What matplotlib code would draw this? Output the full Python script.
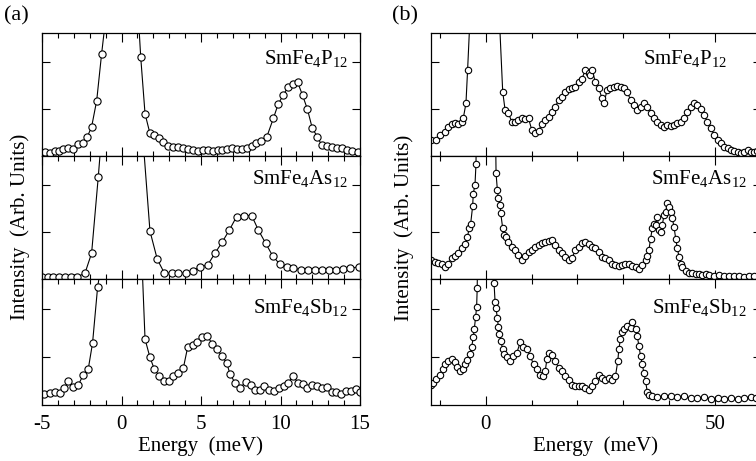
import matplotlib
matplotlib.use("Agg")
import matplotlib.pyplot as plt
from matplotlib.ticker import MultipleLocator, FixedLocator

plt.rcParams['font.family'] = ['Liberation Serif', 'DejaVu Serif']
plt.rcParams['mathtext.fontset'] = 'custom'
plt.rcParams['mathtext.rm'] = 'Liberation Serif'
plt.rcParams['mathtext.it'] = 'Liberation Serif:italic'
plt.rcParams['axes.unicode_minus'] = False

# ---------------- data: panel (a) ----------------
xa_P = [-4.81,-4.50,-4.18,-3.91,-3.66,-3.34,-3.07,-2.71,-2.40,-2.15,
        -1.88,-1.56,-1.25,-0.94,-0.63,-0.31,0.0,0.31,0.63,0.94,
        1.21,1.48,1.79,2.04,2.38,2.63,2.95,3.26,3.57,3.89,
        4.20,4.52,4.83,5.15,5.46,5.78,6.09,6.30,6.61,6.93,
        7.24,7.56,7.87,8.19,8.46,8.75,9.13,9.55,9.86,10.18,
        10.49,10.77,11.08,11.39,11.69,12.0,12.32,12.59,12.90,13.22,
        13.53,13.85,14.16,14.48,14.90]
ya_P = [0.08,0.06,0.11,0.11,0.15,0.18,0.15,0.26,0.28,0.41,
        0.62,1.18,2.18,3.09,8,20,30,20,8,3.66,
        2.10,0.90,0.48,0.45,0.38,0.30,0.22,0.20,0.20,0.16,
        0.15,0.13,0.11,0.13,0.13,0.11,0.13,0.13,0.15,0.16,
        0.15,0.14,0.16,0.22,0.27,0.33,0.40,0.80,1.11,1.30,
        1.48,1.53,1.57,1.29,1.00,0.59,0.41,0.23,0.22,0.20,
        0.18,0.16,0.13,0.11,0.09]

xa_As = [-4.98,-4.64,-4.29,-3.91,-3.55,-3.18,-2.78,-2.30,-1.88,-1.46,
         -1.06,-0.66,-0.26,0.14,0.54,0.96,1.37,
         1.79,2.25,2.69,3.16,3.58,4.06,4.52,4.94,5.42,5.88,
         6.34,6.78,7.24,7.71,8.19,8.61,9.07,9.51,9.97,10.39,
         10.81,11.29,11.75,12.17,12.59,13.05,13.49,13.91,14.37,14.96]
ya_As = [0.05,0.035,0.035,0.035,0.05,0.05,0.05,0.12,0.55,2.18,
         3.86,10,25,30,20,8,2.9,
         1.02,0.42,0.13,0.12,0.12,0.13,0.18,0.26,0.30,0.55,
         0.79,1.04,1.33,1.35,1.35,1.04,0.76,0.49,0.31,0.26,
         0.23,0.20,0.19,0.19,0.19,0.20,0.20,0.21,0.23,0.26]

xa_Sb = [-4.85,-4.50,-4.18,-3.87,-3.60,-3.34,-3.03,-2.71,-2.40,-2.09,-1.82,-1.50,
         -1.19,-0.85,-0.5,-0.15,0.2,0.55,0.86,1.17,
         1.48,1.79,2.06,2.38,2.69,3.01,3.26,3.57,3.89,4.16,
         4.48,4.73,5.04,5.40,5.71,6.03,6.30,6.61,6.82,7.14,
         7.45,7.81,8.13,8.40,8.71,8.98,9.30,9.59,9.93,10.22,
         10.49,10.81,11.08,11.39,11.69,12.0,12.32,12.59,12.90,13.22,
         13.49,13.78,14.10,14.41,14.73,14.98]
ya_Sb = [0.23,0.25,0.26,0.25,0.35,0.49,0.37,0.42,0.63,0.75,1.29,2.46,
         3.08,8,20,30,25,10,6,3.95,
         1.37,0.99,0.75,0.60,0.49,0.49,0.61,0.67,0.77,1.20,
         1.25,1.30,1.41,1.43,1.27,1.16,1.02,0.88,0.65,0.46,
         0.35,0.48,0.42,0.32,0.32,0.40,0.32,0.30,0.35,0.39,
         0.46,0.61,0.46,0.44,0.35,0.42,0.39,0.35,0.37,0.27,
         0.27,0.23,0.30,0.30,0.33,0.27]

# ---------------- data: panel (b) ----------------
xb_P = [-11.83,-10.74,-10.01,-8.91,-8.18,-7.45,-6.72,-5.99,-5.26,-4.90,-4.31,-3.95,
        -3.2,-2.0,0.0,2.0,3.0,
        3.71,4.23,4.96,5.69,6.42,7.15,7.88,8.61,9.34,10.07,
        10.80,11.53,12.26,12.99,13.72,14.45,15.18,15.91,16.64,17.37,
        18.10,18.82,19.55,20.28,21.01,21.74,22.47,22.84,23.20,23.93,
        24.66,25.39,25.76,26.49,27.22,27.95,28.68,29.42,30.15,30.88,
        31.61,32.34,33.07,33.80,34.53,35.26,35.99,36.72,37.45,38.18,
        38.91,39.64,40.37,41.09,41.82,42.55,43.28,44.01,44.74,45.47,
        46.20,46.93,47.66,48.39,49.12,49.85,50.58,51.31,52.04,52.77,
        53.50,54.23,54.96,55.69,56.42,57.15,57.88,58.61,59.2]
yb_P = [0.35,0.35,0.45,0.52,0.62,0.68,0.71,0.68,0.73,0.80,1.12,1.83,
        3.43,10,30,10,2.9,
        1.37,0.98,0.91,0.73,0.73,0.77,0.80,0.78,0.80,0.55,
        0.50,0.53,0.69,0.77,0.84,0.94,1.05,1.19,1.26,1.37,
        1.42,1.44,1.48,1.58,1.65,1.83,1.77,1.72,1.83,1.58,
        1.44,1.23,1.12,1.40,1.44,1.47,1.49,1.47,1.44,1.37,
        1.19,1.08,0.98,1.05,1.12,1.05,0.91,0.80,0.73,0.66,
        0.62,0.66,0.64,0.66,0.70,0.73,0.80,0.94,1.05,1.13,
        1.08,1.01,0.87,0.73,0.59,0.45,0.34,0.27,0.20,0.16,
        0.13,0.11,0.09,0.07,0.09,0.13,0.09,0.09,0.11]

xb_As = [-11.83,-11.1,-10.37,-9.64,-8.91,-8.18,-7.45,-6.72,-5.99,-5.26,
         -4.53,-4.02,-3.58,-3.29,-2.85,-2.71,-2.34,-2.12,
         0.0,
         2.26,2.55,2.77,3.13,3.28,3.71,4.0,4.44,4.96,5.69,
         6.42,7.15,7.88,8.61,9.34,10.07,10.80,11.53,12.26,12.99,
         13.72,14.45,15.18,15.91,16.64,17.37,18.10,18.82,19.55,20.28,
         21.01,21.74,22.47,23.20,23.93,24.66,25.39,26.12,26.85,27.58,
         28.31,29.04,29.77,30.50,31.23,31.96,32.69,33.42,34.15,34.88,
         35.25,35.61,35.98,36.34,36.71,37.07,37.44,37.80,38.17,38.53,
         38.90,39.26,39.63,39.99,40.36,40.72,41.09,41.45,41.82,42.18,
         42.55,42.91,43.64,44.37,45.10,45.83,46.56,47.29,48.02,48.75,
         49.85,50.95,52.04,53.13,54.23,55.32,56.42,57.52,58.61]
yb_As = [0.40,0.37,0.35,0.33,0.26,0.33,0.44,0.49,0.55,0.65,
         0.74,0.89,1.08,1.17,1.55,1.82,2.00,2.45,
         20,
         2.25,1.89,1.72,1.57,1.40,1.08,0.94,0.89,0.79,0.69,
         0.62,0.51,0.40,0.49,0.58,0.62,0.69,0.72,0.77,0.79,
         0.82,0.83,0.72,0.62,0.55,0.46,0.40,0.44,0.62,0.69,
         0.76,0.79,0.74,0.69,0.65,0.58,0.47,0.44,0.40,0.33,
         0.30,0.28,0.30,0.33,0.32,0.28,0.25,0.21,0.30,0.40,
         0.49,0.62,0.86,1.08,1.18,1.15,1.33,1.04,1.01,1.15,
         1.36,1.43,1.61,1.54,1.43,1.29,1.11,0.86,0.65,0.47,
         0.33,0.26,0.18,0.13,0.12,0.11,0.10,0.09,0.10,0.09,
         0.07,0.09,0.07,0.06,0.06,0.06,0.05,0.06,0.06]

xb_Sb = [-11.9,-11.46,-10.74,-10.01,-9.42,-8.91,-8.18,-7.45,-6.72,-6.21,
         -5.63,-5.04,-4.53,-4.02,-3.44,-3.07,-2.71,-2.49,-2.20,-1.98,-1.85,
         0.0,
         1.82,2.04,2.26,2.55,2.77,2.99,3.28,3.71,4.0,4.59,
         5.32,6.05,6.78,7.51,8.24,8.97,9.70,10.43,11.16,11.89,
         12.47,12.98,13.35,13.71,14.44,15.17,15.90,16.63,17.36,18.09,
         18.82,19.55,20.28,21.01,21.74,22.47,23.20,23.93,24.66,25.39,
         26.12,26.85,27.58,28.31,28.83,29.04,29.41,29.77,30.14,30.87,
         31.60,31.96,32.69,33.06,33.42,33.79,34.15,34.52,34.88,35.25,
         35.61,36.34,37.44,38.90,40.36,41.82,43.28,44.74,46.20,47.66,
         49.12,50.58,52.04,53.50,54.96,56.42,57.88,58.97]
yb_Sb = [0.42,0.46,0.54,0.63,0.74,0.85,0.92,0.95,0.89,0.80,
         0.70,0.74,0.85,0.94,1.06,1.20,1.41,1.58,1.83,2.04,2.44,
         20,
         2.54,2.15,2.01,1.80,1.62,1.48,1.34,1.16,1.06,0.99,
         0.92,1.02,1.08,1.30,1.20,1.16,1.02,0.85,0.74,0.63,
         0.60,0.70,0.95,1.09,1.04,0.92,0.77,0.70,0.60,0.53,
         0.42,0.39,0.40,0.39,0.35,0.32,0.39,0.49,0.63,0.56,
         0.53,0.56,0.53,0.60,0.92,1.16,1.37,1.51,1.58,1.65,
         1.60,1.73,1.58,1.44,1.23,1.02,0.85,0.67,0.49,0.28,
         0.21,0.18,0.16,0.18,0.19,0.16,0.18,0.14,0.14,0.16,
         0.13,0.14,0.12,0.14,0.12,0.14,0.16,0.14]

labels = [r'SmFe$_{4}$P$_{12}$', r'SmFe$_{4}$As$_{12}$', r'SmFe$_{4}$Sb$_{12}$']
a_ticks = [-5, 0, 5, 10, 15]
a_ticklabels = ['-5', '0', '5', '10', '15']
b_ticks = [0, 50]
b_ticklabels = ['0', '50']

W, H = 756, 461
fig = plt.figure(figsize=(W / 100, H / 100), dpi=100)

rows_px = [(33, 156), (156, 279), (279, 405)]
col_px = [(42, 360), (430.7, 760.7)]

FS = 15
data_a = [(xa_P, ya_P), (xa_As, ya_As), (xa_Sb, ya_Sb)]
data_b = [(xb_P, yb_P), (xb_As, yb_As), (xb_Sb, yb_Sb)]
lab_pos_a = [(0.962, 0.745), (0.962, 0.77), (0.962, 0.73)]
lab_pos_b = [(0.898, 0.745), (0.958, 0.77), (0.958, 0.73)]

for ci, (x0, x1) in enumerate(col_px):
    for ri, (t, b) in enumerate(rows_px):
        ax = fig.add_axes([x0 / W, 1 - b / H, (x1 - x0) / W, (b - t) / H])
        if ci == 0:
            xs, ys = data_a[ri]
            ax.set_xlim(-5, 15)
            ax.xaxis.set_major_locator(FixedLocator(a_ticks))
            ax.xaxis.set_minor_locator(MultipleLocator(1))
            ms = 5.2
            lx, ly = lab_pos_a[ri]
        else:
            xs, ys = data_b[ri]
            ax.set_xlim(-12, 60)
            ax.xaxis.set_major_locator(FixedLocator(b_ticks))
            ax.xaxis.set_minor_locator(MultipleLocator(10))
            ms = 4.6
            lx, ly = lab_pos_b[ri]
        ax.plot(xs, ys, '-', color='black', lw=0.8, marker='o', ms=ms,
                mfc='white', mec='black', mew=0.8)
        ax.set_ylim(0, 2.62)
        ax.yaxis.set_major_locator(FixedLocator([1, 2]))
        ax.tick_params(axis='both', which='major', direction='in', top=True, right=True,
                       length=6.5, width=0.8, labelsize=FS, pad=7)
        ax.tick_params(axis='both', which='minor', direction='in', top=True, right=True,
                       length=3.5, width=0.8)
        ax.tick_params(axis='y', which='major', length=6)
        ax.set_yticklabels([])
        for s in ax.spines.values():
            s.set_linewidth(0.9)
        if ri < 2:
            ax.set_xticklabels([])
        else:
            ax.set_xticklabels(a_ticklabels if ci == 0 else b_ticklabels)
            ax.set_xlabel('Energy  (meV)', fontsize=FS, labelpad=2)
        ax.text(lx, ly, labels[ri], transform=ax.transAxes, ha='right', va='baseline',
                fontsize=FS)

fig.text(20 / W, 1 - 227 / H, 'Intensity  (Arb. Units)', rotation=90,
         ha='center', va='center', fontsize=FS)
fig.text(404 / W, 1 - 228 / H, 'Intensity  (Arb. Units)', rotation=90,
         ha='center', va='center', fontsize=FS)
fig.text(4 / W, 1 - 6 / H, '(a)', ha='left', va='top', fontsize=16)
fig.text(392 / W, 1 - 6 / H, '(b)', ha='left', va='top', fontsize=16)

fig.savefig('out.png', dpi=100)
